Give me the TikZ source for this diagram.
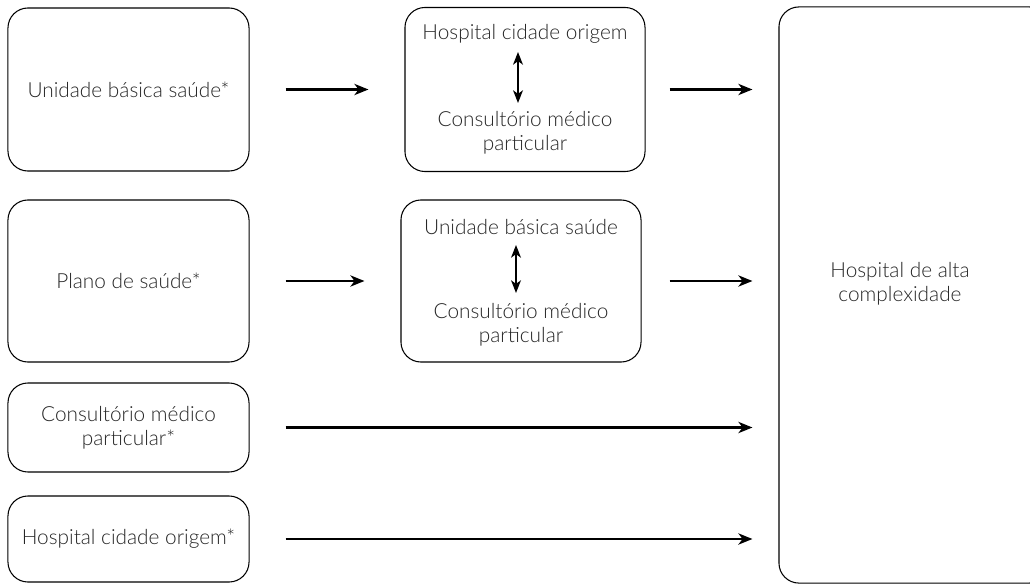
\documentclass[tikz,border=0pt]{standalone}
\usepackage{fontspec}
\setmainfont{Lato Light}
\usetikzlibrary{arrows.meta}
\begin{document}
\begin{tikzpicture}[x=0.025cm,y=-0.025cm,
  txt/.style={text=black!85,font=\fontsize{14.8}{17}\selectfont,align=center},
  box/.style={draw,line width=0.75pt,rounded corners=0.5cm,txt,inner sep=0pt},
  seta/.style={line width=1.6pt,-{Stealth[length=10pt,width=8pt,inset=3pt]}},
  dupla/.style={line width=1.1pt,{Stealth[length=9pt,width=7pt,inset=2.5pt]}-{Stealth[length=9pt,width=7pt,inset=2.5pt]}}]
\useasboundingbox (0,0) rectangle (1030,584);

\node[box,minimum width=6.025cm,minimum height=4.075cm] (ubs) at (128.5,89.5) {Unidade básica saúde*};
\node[box,minimum width=6.025cm,minimum height=4.05cm] (plano) at (128.5,281) {Plano de saúde*};
\node[box,minimum width=6.025cm,minimum height=2.225cm] (cons) at (128.5,427.5) {Consultório médico\\particular*};
\node[box,minimum width=6.025cm,minimum height=2.15cm] (hosp) at (128.5,539) {Hospital cidade origem*};

\node[box,minimum width=6cm,minimum height=4.1cm] (meio1) at (525,89.5) {};
\node[box,minimum width=6cm,minimum height=4.05cm] (meio2) at (521,281) {};
\node[box,minimum width=6.75cm,minimum height=14.4cm] (alta) at (914,295) {};

\node[txt] (hco) at (525,34) {Hospital cidade origem};
\node[txt] (cmp1) at (525,133) {Consultório médico\\particular};
\node[txt] (ubs2) at (521,227) {Unidade básica saúde};
\node[txt] (cmp2) at (521,325) {Consultório médico\\particular};
\node[txt] (altatxt) at (900,284) {Hospital de alta\\complexidade};

\draw[dupla] (518,52) -- (518,103);
\draw[dupla] (516,245) -- (516,293);

\draw[seta,shorten <=0.9cm,shorten >=0.9cm] (ubs) -- (meio1);
\draw[seta,shorten <=0.9cm,shorten >=0.9cm] (plano) -- (meio2);
\draw[seta,shorten <=0.6cm,shorten >=0.65cm] (meio1) -- (meio1 -| alta.west);
\draw[seta,shorten <=0.7cm,shorten >=0.65cm] (meio2) -- (meio2 -| alta.west);
\draw[seta,shorten <=0.9cm,shorten >=0.65cm] (cons) -- (cons -| alta.west);
\draw[seta,shorten <=0.9cm,shorten >=0.65cm] (hosp) -- (hosp -| alta.west);
\end{tikzpicture}
\end{document}
